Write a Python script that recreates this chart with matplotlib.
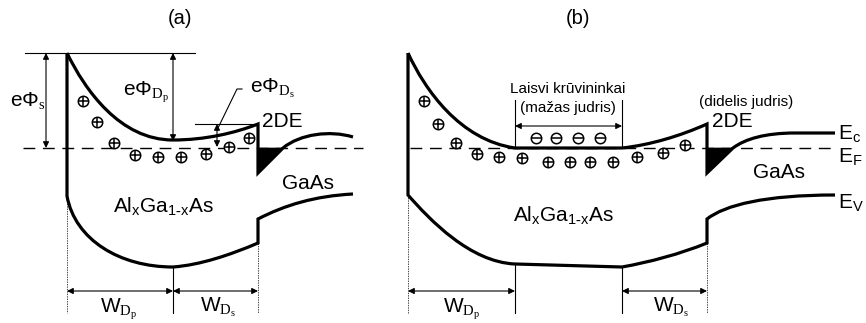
import matplotlib
matplotlib.use('Agg')
import matplotlib.pyplot as plt
from matplotlib.path import Path
from matplotlib.patches import PathPatch

plt.rcParams['font.family'] = ['Liberation Sans', 'DejaVu Sans']
plt.rcParams['mathtext.fontset'] = 'custom'
plt.rcParams['mathtext.rm'] = 'Liberation Serif'
plt.rcParams['mathtext.sf'] = 'Liberation Sans'
plt.rcParams['mathtext.it'] = 'Liberation Serif:italic'

# band edges (control points of the schematic curves, pixel units)
cb_a = [('M', (67, 53)), ('C', (85, 90), (120, 140), (173, 140)),
        ('C', (205, 140), (235, 133), (258, 124)), ('L', (258, 173)),
        ('L', (283, 148)), ('C', (300, 134), (330, 130), (353, 137))]
vb_a = [('M', (67, 53)), ('L', (67, 196)), ('C', (75, 240), (120, 267), (173, 267)),
        ('C', (200, 265), (230, 255), (258, 243)), ('L', (258, 219)),
        ('C', (285, 205), (315, 196), (353, 194))]
notch_a = [('M', (258, 148)), ('L', (258, 173)), ('L', (283, 148)), ('Z',)]

cb_b = [('M', (408, 53)), ('C', (425, 90), (460, 140), (515, 148)), ('L', (622, 148)),
        ('C', (650, 145), (680, 136), (707, 124)), ('L', (707, 173)), ('L', (733, 148)),
        ('C', (745, 139), (765, 133), (795, 133)), ('L', (835, 133))]
vb_b = [('M', (408, 53)), ('L', (408, 195)), ('C', (430, 220), (470, 262), (515, 264)),
        ('L', (622, 267)), ('C', (650, 262), (680, 254), (707, 243)), ('L', (707, 219)),
        ('C', (725, 205), (765, 195), (835, 195))]
notch_b = [('M', (707, 148)), ('L', (707, 173)), ('L', (733, 148)), ('Z',)]

# Fermi level
ef_y = 148
ef_spans = [(23, 363), (410, 835)]

# ionised donors and free electrons
plus_a_x = [83, 97, 114, 135, 158, 181, 206, 229, 249]
plus_a_y = [101, 122, 143, 155, 157, 157, 154, 147, 138]
plus_b_x = [424, 438, 456, 477, 499, 522, 548, 570, 590, 613, 637, 663, 685]
plus_b_y = [101, 124, 143, 154, 157, 158, 162, 162, 162, 162, 157, 153, 145]
minus_b_x = [536, 556, 578, 600]
minus_b_y = [138, 138, 138, 138]

# guide lines
dotted_v = [(67, 196, 313), (258, 243, 313), (408, 195, 313), (707, 243, 313)]
solid_v = [(173, 267, 313), (515, 264, 313), (622, 267, 313), (515, 100, 148), (622, 100, 148)]
thin_h = [(25, 195, 53), (195, 258, 124)]
arrows_v = [(46, 53, 148), (173, 53, 141), (217, 124, 147)]
arrows_h = [(67, 173, 291), (173, 258, 291), (408, 515, 291), (622, 707, 291), (515, 622, 126)]
leader = [(242, 89), (237, 89), (218, 128)]

alga = r'$\mathsf{Al_xGa_{1\text{-}x}As}$'
labels = [
    (180, 18, '(a)', 14.5, 'center', 'center'),
    (578, 18, '(b)', 14.5, 'center', 'center'),
    (10, 106, r'$\mathsf{e\Phi}_{\mathrm{s}}$', 15, 'left', 'baseline'),
    (123, 95, r'$\mathsf{e\Phi}_{\mathrm{D_p}}$', 15, 'left', 'baseline'),
    (250, 93, r'$\mathsf{e\Phi}_{\mathrm{D_s}}$', 15, 'left', 'baseline'),
    (262, 127, '2DE', 15, 'left', 'baseline'),
    (282, 189, 'GaAs', 15, 'left', 'baseline'),
    (113, 213, alga, 15, 'left', 'baseline'),
    (100, 312, r'$\mathsf{W}_{\mathrm{D_p}}$', 15, 'left', 'baseline'),
    (200, 312, r'$\mathsf{W}_{\mathrm{D_s}}$', 15, 'left', 'baseline'),
    (568, 93, 'Laisvi krūvininkai', 11, 'center', 'baseline'),
    (568, 112, '(mažas judris)', 11, 'center', 'baseline'),
    (746, 106, '(didelis judris)', 11, 'center', 'baseline'),
    (712, 127, '2DE', 15, 'left', 'baseline'),
    (753, 178, 'GaAs', 15, 'left', 'baseline'),
    (513, 222, alga, 15, 'left', 'baseline'),
    (838, 140, r'$\mathsf{E_c}$', 15, 'left', 'baseline'),
    (838, 163, r'$\mathsf{E_F}$', 15, 'left', 'baseline'),
    (838, 209, r'$\mathsf{E_V}$', 15, 'left', 'baseline'),
    (443, 312, r'$\mathsf{W}_{\mathrm{D_p}}$', 15, 'left', 'baseline'),
    (653, 312, r'$\mathsf{W}_{\mathrm{D_s}}$', 15, 'left', 'baseline'),
]


def make_path(segs):
    verts, codes = [], []
    for s in segs:
        if s[0] == 'M':
            verts.append(s[1]); codes.append(Path.MOVETO)
        elif s[0] == 'L':
            verts.append(s[1]); codes.append(Path.LINETO)
        elif s[0] == 'C':
            verts += list(s[1:]); codes += [Path.CURVE4] * 3
        elif s[0] == 'Z':
            verts.append((0, 0)); codes.append(Path.CLOSEPOLY)
    return Path(verts, codes)


fig = plt.figure(figsize=(8.66, 3.23), dpi=100)
ax = fig.add_axes([0, 0, 1, 1])
ax.set_xlim(0, 866)
ax.set_ylim(323, 0)
ax.axis('off')

for segs in [cb_a, vb_a, cb_b, vb_b]:
    ax.add_patch(PathPatch(make_path(segs), fc='none', ec='black', lw=2.3,
                           joinstyle='miter', capstyle='butt', zorder=3))
for segs in [notch_a, notch_b]:
    ax.add_patch(PathPatch(make_path(segs), fc='black', ec='black', lw=0.5, zorder=3))

for x0, x1 in ef_spans:
    ax.plot([x0, x1], [ef_y, ef_y], color='black', lw=1.0, dashes=(8.5, 5.5), zorder=1)

for x, y0, y1 in dotted_v:
    ax.plot([x, x], [y0, y1], color='black', lw=0.5, dashes=(2, 1.5))
for x, y0, y1 in solid_v:
    ax.plot([x, x], [y0, y1], color='black', lw=0.8)
for x0, x1, y in thin_h:
    ax.plot([x0, x1], [y, y], color='black', lw=0.8)
ax.plot([p[0] for p in leader], [p[1] for p in leader], color='black', lw=0.8)

arrow_props = dict(arrowstyle='<|-|>', color='black', lw=0.8, mutation_scale=9,
                   shrinkA=0, shrinkB=0)
for x, y0, y1 in arrows_v:
    ax.annotate('', xy=(x, y1), xytext=(x, y0), arrowprops=arrow_props)
for x0, x1, y in arrows_h:
    ax.annotate('', xy=(x1, y), xytext=(x0, y), arrowprops=arrow_props)

for xs, ys in [(plus_a_x, plus_a_y), (plus_b_x, plus_b_y)]:
    ax.plot(xs, ys, 'o', ms=7.5, mfc='white', mec='black', mew=1.1, ls='none', zorder=4)
    ax.plot(xs, ys, '+', ms=7.5, mec='black', mew=1.1, ls='none', zorder=5)
ax.plot(minus_b_x, minus_b_y, 'o', ms=7.5, mfc='white', mec='black', mew=1.1, ls='none', zorder=4)
ax.plot(minus_b_x, minus_b_y, '_', ms=7.5, mec='black', mew=1.1, ls='none', zorder=5)

for x, y, s, fs, ha, va in labels:
    ax.text(x, y, s, fontsize=fs, ha=ha, va=va, zorder=6)

fig.savefig('out.png', dpi=100)
